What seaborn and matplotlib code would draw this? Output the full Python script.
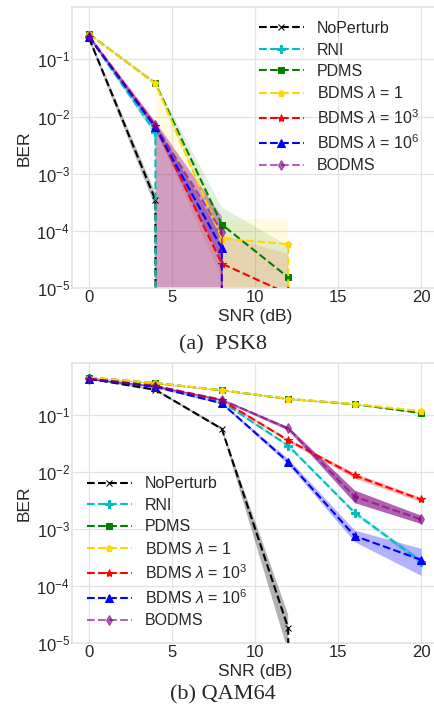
import matplotlib
matplotlib.use("Agg")
import matplotlib.pyplot as plt
import seaborn as sns
import numpy as np

# ---------------- data ----------------
snr = [0, 4, 8, 12, 16, 20]
labels = ["NoPerturb", "RNI", "PDMS", "BDMS $\\lambda$ = 1",
          "BDMS $\\lambda$ = $10^3$", "BDMS $\\lambda$ = $10^6$", "BODMS"]

# PSK8: mean BER per method (0 = no errors observed)
psk8_mean = [
    [0.235, 3.5e-4, 0, 0, 0, 0],
    [0.248, 5.3e-3, 0, 0, 0, 0],
    [0.277, 0.038, 1.3e-4, 1.55e-5, 0, 0],
    [0.277, 0.038, 7.4e-5, 5.9e-5, 0, 0],
    [0.248, 6.9e-3, 2.7e-5, 8e-6, 0, 0],
    [0.248, 6.5e-3, 5e-5, 0, 0, 0],
    [0.255, 7.0e-3, 9.8e-5, 0, 0, 0],
]
psk8_lo = [
    [0.215, 2.6e-4, 0, 0, 0, 0],
    [0.235, 4.6e-3, 0, 0, 0, 0],
    [0.268, 0.036, 7e-5, 0, 0, 0],
    [0.268, 0.035, 0, 0, 0, 0],
    [0.235, 6.0e-3, 1.5e-5, 0, 0, 0],
    [0.235, 5.6e-3, 3e-5, 0, 0, 0],
    [0.240, 6.0e-3, 0, 0, 0, 0],
]
psk8_hi = [
    [0.255, 4.6e-4, 0, 0, 0, 0],
    [0.262, 6.2e-3, 0, 0, 0, 0],
    [0.287, 0.041, 2.6e-4, 5.5e-5, 0, 0],
    [0.287, 0.042, 1.6e-4, 1.6e-4, 0, 0],
    [0.262, 8.0e-3, 8.5e-5, 4e-5, 0, 0],
    [0.262, 7.5e-3, 8e-5, 0, 0, 0],
    [0.270, 8.2e-3, 1.8e-4, 0, 0, 0],
]

# QAM64
qam64_mean = [
    [0.43, 0.275, 0.057, 1.85e-5, 0, 0],
    [0.44, 0.32, 0.17, 0.029, 1.94e-3, 2.7e-4],
    [0.45, 0.36, 0.27, 0.19, 0.154, 0.108],
    [0.45, 0.36, 0.27, 0.19, 0.155, 0.117],
    [0.43, 0.32, 0.18, 0.036, 8.7e-3, 3.3e-3],
    [0.42, 0.31, 0.16, 0.015, 7.6e-4, 2.9e-4],
    [0.43, 0.32, 0.185, 0.058, 3.7e-3, 1.48e-3],
]
qam64_lo = [
    [0.42, 0.265, 0.054, 7e-6, 0, 0],
    [0.43, 0.31, 0.165, 0.027, 1.8e-3, 2.4e-4],
    [0.44, 0.35, 0.265, 0.186, 0.151, 0.105],
    [0.44, 0.35, 0.265, 0.186, 0.152, 0.114],
    [0.42, 0.31, 0.175, 0.034, 7.8e-3, 3.0e-3],
    [0.41, 0.30, 0.155, 0.0135, 6.0e-4, 1.55e-4],
    [0.42, 0.31, 0.178, 0.054, 2.9e-3, 1.25e-3],
]
qam64_hi = [
    [0.44, 0.285, 0.060, 3.2e-5, 0, 0],
    [0.45, 0.33, 0.175, 0.031, 2.1e-3, 3.0e-4],
    [0.46, 0.37, 0.275, 0.194, 0.157, 0.111],
    [0.46, 0.37, 0.275, 0.194, 0.158, 0.120],
    [0.44, 0.33, 0.185, 0.038, 9.6e-3, 3.6e-3],
    [0.43, 0.32, 0.165, 0.017, 9.6e-4, 4.6e-4],
    [0.44, 0.33, 0.192, 0.062, 4.8e-3, 1.75e-3],
]

# ---------------- style ----------------
colors = ["black", "#00bfbf", "green", "gold", "red", "blue", "purple"]
line_alpha = [1, 1, 1, 1, 1, 1, 0.6]
markers = ["x", "P", "s", "p", "*", "^", "d"]
msizes = [5, 6, 5, 5, 6, 6, 5]
psk8_alpha = [0.25, 0.3, 0.12, 0.12, 0.1, 0.3, 0.36]
qam64_alpha = [0.3, 0.3, 0.3, 0.3, 0.3, 0.3, 0.62]

sns.set_theme(style="whitegrid", rc={
    "grid.color": "#e3e3e3",
    "axes.edgecolor": "#e3e3e3",
    "grid.linewidth": 0.9,
})
plt.rcParams["font.family"] = ["Liberation Sans", "DejaVu Sans"]
plt.rcParams["mathtext.fontset"] = "custom"
plt.rcParams["mathtext.rm"] = "Liberation Sans"
plt.rcParams["mathtext.it"] = "Liberation Sans:italic"
plt.rcParams["mathtext.bf"] = "Liberation Sans:bold"

fig = plt.figure(figsize=(4.35, 7.07), dpi=100)
W, H = 435.0, 707.0
ax1 = fig.add_axes([72.4 / W, 1 - 288.3 / H, 365.2 / W, 281.0 / H])
ax2 = fig.add_axes([72.4 / W, 1 - 643.3 / H, 365.2 / W, 280.3 / H])


def draw(ax, means, los, his, alphas, leg_anchor):
    for i in range(len(labels)):
        sns.lineplot(x=snr, y=means[i], ax=ax, color=colors[i],
                     marker=markers[i], markersize=msizes[i],
                     markeredgecolor=colors[i], linestyle="--",
                     linewidth=1.5, label=labels[i], zorder=3,
                     alpha=line_alpha[i])
        ax.fill_between(snr, los[i], his[i], color=colors[i],
                        alpha=alphas[i], linewidth=0, zorder=2)
    ax.set_yscale("log")
    ax.set_xlim(-1, 21)
    ax.set_ylim(1e-5, 0.81)
    ax.set_xticks([0, 5, 10, 15, 20])
    ax.tick_params(axis="both", which="both", length=0, labelsize=12,
                   colors="#262626")
    ax.tick_params(axis="y", pad=1.7)
    ax.tick_params(axis="x", pad=1.5)
    ax.minorticks_off()
    ax.set_xlabel("SNR (dB)", fontsize=12.5, labelpad=2.7, color="#262626")
    ax.set_ylabel("BER", fontsize=12.5, labelpad=3.4, color="#262626")
    ax.legend(loc="upper left", bbox_to_anchor=leg_anchor, frameon=False,
              fontsize=11.5, handlelength=2.8, handletextpad=0.8,
              labelspacing=0.405, borderpad=0, borderaxespad=0)


draw(ax1, psk8_mean, psk8_lo, psk8_hi, psk8_alpha, (0.511, 0.951))
draw(ax2, qam64_mean, qam64_lo, qam64_hi, qam64_alpha, (0.04, 0.596))

fig.text(223 / W, 1 - 345 / H, "(a)  PSK8", ha="center", va="center",
         family="Liberation Serif", fontsize=16)
fig.text(223 / W, 1 - 695 / H, "(b) QAM64", ha="center", va="center",
         family="Liberation Serif", fontsize=16)

fig.savefig("out.png", dpi=100)
